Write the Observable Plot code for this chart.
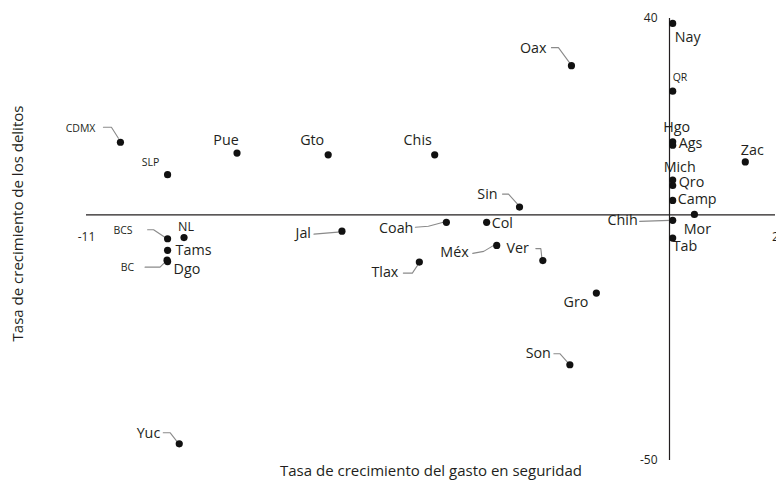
<!DOCTYPE html>
<html>
<head>
<meta charset="utf-8">
<script src="https://cdn.jsdelivr.net/npm/d3@7"></script>
<script src="https://cdn.jsdelivr.net/npm/@observablehq/plot@0.6"></script>
<style>
  html, body { margin: 0; padding: 0; background: #fff; }
</style>
</head>
<body>
<div id="chart"></div>
<script>
// ---- data ----
const states = ["CDMX","SLP","Pue","Gto","Chis","BCS","NL","Tams","BC","Dgo","Jal","Coah","Tlax","Oax","Sin","Col","Méx","Ver","Gro","Son","Yuc","Nay","QR","Hgo","Ags","Mich","Qro","Camp","Chih","Mor","Tab","Zac"];
const gasto = [-10.36,-9.47,-8.16,-6.44,-4.43,-9.47,-9.16,-9.47,-9.48,-9.47,-6.18,-4.21,-4.72,-1.85,-2.83,-3.45,-3.26,-2.39,-1.38,-1.88,-9.25,0.06,0.06,0.06,0.06,0.06,0.06,0.06,0.06,0.47,0.06,1.43];
const delitos = [14.8,8.2,12.6,12.25,12.25,-4.85,-4.6,-7.2,-9.2,-9.5,-3.3,-1.5,-9.6,30.4,1.6,-1.5,-6.2,-9.3,-15.9,-30.5,-46.6,39.0,25.2,14.9,14.2,7.1,6.0,2.95,-1.1,0.1,-4.7,10.8];
const xTicks = [-11, 2];
const yTicks = [-50, 40];
const xTitle = "Tasa de crecimiento del gasto en seguridad";
const yTitle = "Tasa de crecimiento de los delitos";

// ---- label layout (pixel offsets from each dot) ----
const labelLayout = {
  CDMX: {a:"end", dx:-25, dy:-14, small:true, lead:[[-17,-15],[-9,-15],[-2,-4]]},
  SLP:  {a:"middle", dx:-17, dy:-12, small:true},
  Pue:  {a:"middle", dx:-11, dy:-13},
  Gto:  {a:"middle", dx:-16, dy:-14},
  Chis: {a:"middle", dx:-17, dy:-14},
  BCS:  {a:"end", dx:-35, dy:-8, small:true, lead:[[-20,-9],[-14,-9],[-2,-1]]},
  NL:   {a:"middle", dx:2, dy:-11, mid:true},
  Tams: {a:"start", dx:8, dy:0},
  BC:   {a:"end", dx:-33, dy:7, small:true, lead:[[-22,7],[-7,7],[-1,1]]},
  Dgo:  {a:"start", dx:6, dy:8},
  Jal:  {a:"end", dx:-31, dy:2, lead:[[-28,3],[-4,1]]},
  Coah: {a:"end", dx:-33, dy:6, lead:[[-31,5],[-18,4],[-3,0]]},
  Tlax: {a:"end", dx:-21, dy:10, lead:[[-16,11],[-7,11],[-1,2]]},
  Oax:  {a:"end", dx:-25, dy:-17, lead:[[-20,-18],[-13,-18],[-2,-3]]},
  Sin:  {a:"end", dx:-22, dy:-13, lead:[[-17,-13],[-11,-13],[-2,-3]]},
  Col:  {a:"start", dx:5, dy:1},
  "Méx":{a:"end", dx:-28, dy:7, lead:[[-24,8],[-13,6],[-3,0]]},
  Ver:  {a:"end", dx:-14, dy:-12, lead:[[-7,-12],[-2,-12],[-1,-3]]},
  Gro:  {a:"end", dx:-8, dy:9},
  Son:  {a:"end", dx:-19, dy:-11, lead:[[-16,-11],[-10,-11],[-2,-2]]},
  Yuc:  {a:"end", dx:-19, dy:-10, lead:[[-16,-11],[-9,-11],[-2,-2]]},
  Nay:  {a:"start", dx:2, dy:14},
  QR:   {a:"start", dx:0, dy:-14, small:true},
  Hgo:  {a:"middle", dx:4, dy:-14},
  Ags:  {a:"start", dx:6, dy:-2},
  Mich: {a:"middle", dx:7, dy:-13},
  Qro:  {a:"start", dx:6, dy:-3},
  Camp: {a:"start", dx:5, dy:-1},
  Chih: {a:"end", dx:-35, dy:0, lead:[[-33,1],[-3,0]]},
  Mor:  {a:"middle", dx:3, dy:15},
  Tab:  {a:"start", dx:0, dy:8},
  Zac:  {a:"middle", dx:7, dy:-11}
};

// ---- dimensions ----
const W = 776, H = 483;
const mL = 86, mR = 1, mT = 18, mB = 23;
const xDom = [-11, 2], yDom = [-50, 40];
const kx = (W - mL - mR) / (xDom[1] - xDom[0]);
const ky = (H - mT - mB) / (yDom[1] - yDom[0]);

const pts = states.map((s, i) => ({name: s, x: gasto[i], y: delitos[i]}));
const labels = pts.map(p => {
  const L = labelLayout[p.name];
  return {name: p.name, a: L.a, small: !!L.small, mid: !!L.mid,
          x: p.x + L.dx / kx, y: p.y - L.dy / ky};
});
const leaders = [];
pts.forEach(p => {
  const L = labelLayout[p.name];
  if (L.lead) L.lead.forEach(([ox, oy]) => leaders.push({name: p.name, x: p.x + ox / kx, y: p.y - oy / ky}));
});

const textColor = "#231f20";
const labelMarks = [];
for (const a of ["start","middle","end"]) {
  for (const sz of ["n","s","m"]) {
    const fs = sz === "s" ? 10.5 : sz === "m" ? 12.5 : 14.3;
    labelMarks.push(Plot.text(labels.filter(d => d.a === a && (sz === "s" ? d.small : sz === "m" ? d.mid : (!d.small && !d.mid))), {
      x: "x", y: "y", text: "name", textAnchor: a, fontSize: fs, fill: textColor
    }));
  }
}

const chart = Plot.plot({
  width: W, height: H,
  marginLeft: mL, marginRight: mR, marginTop: mT, marginBottom: mB,
  x: {domain: xDom, axis: null},
  y: {domain: yDom, axis: null},
  style: {fontFamily: "'Open Sans', 'Noto Sans', sans-serif", background: "#fff", overflow: "visible"},
  marks: [
    Plot.ruleY([0], {stroke: "#231f20", strokeWidth: 1.2}),
    Plot.ruleX([0], {stroke: "#231f20", strokeWidth: 1.2}),
    Plot.line(leaders, {x: "x", y: "y", z: "name", stroke: "#8a8a8a", strokeWidth: 1.1}),
    Plot.dot(pts, {x: "x", y: "y", r: 3.6, fill: "#111", stroke: "none"}),
    ...labelMarks,
    Plot.text(xTicks, {x: d => d, y: 0, dy: 22, text: d => String(d), fontSize: 12, fill: textColor}),
    Plot.text(yTicks, {x: 0, y: d => d, dx: -12, textAnchor: "end", text: d => String(d), fontSize: 12, fill: textColor}),
    Plot.text([xTitle], {frameAnchor: "bottom", dy: 15, textAnchor: "middle", text: d => d, fontSize: 15, fill: textColor}),
    Plot.text([yTitle], {frameAnchor: "left", textAnchor: "middle", dx: -68, dy: -16, rotate: -90, text: d => d, fontSize: 15, fill: textColor})
  ]
});
document.getElementById("chart").appendChild(chart);
</script>
</body>
</html>
